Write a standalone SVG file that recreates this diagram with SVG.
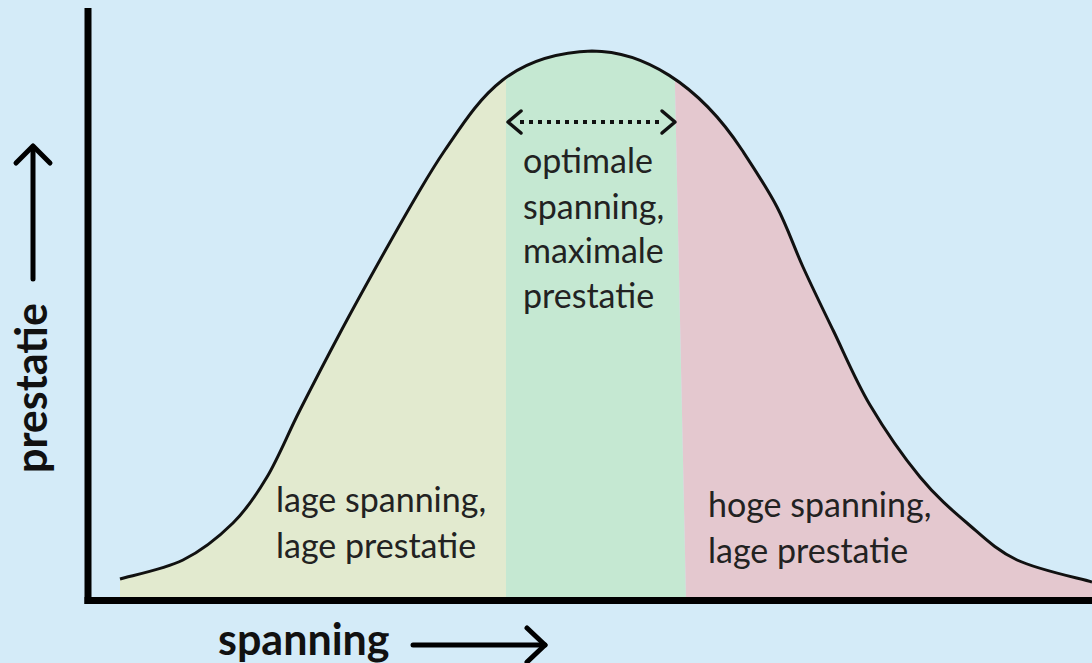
<svg xmlns="http://www.w3.org/2000/svg" width="1092" height="663" viewBox="0 0 1092 663">
<style>
.lbl{font-family:Lato,"Liberation Sans",sans-serif;font-size:34px;fill:#222}
.ax{font-family:Lato,"Liberation Sans",sans-serif;font-size:43px;font-weight:bold;fill:#111}
.arr{fill:none;stroke:#000;stroke-width:5;stroke-linecap:round;stroke-linejoin:round}
.chev{fill:none;stroke:#111;stroke-width:3.5;stroke-linecap:round;stroke-linejoin:round}
</style>
<defs>
<path id="curvePath" d="M120,579 C130.5,575.8 164.2,569.3 183,560 C201.8,550.7 219,536.8 233,523 C247,509.2 255.8,495.8 267,477 C278.2,458.2 287.8,434 300,410 C312.2,386 326.7,358 340,333 C353.3,308 366.7,283.8 380,260 C393.3,236.2 409.2,208.3 420,190 C430.8,171.7 435,164.7 445,150 C478,102 505,54 592,51 C642,51 698,83 742,150 C751.5,164.5 766.8,187.5 777,207 C787.2,226.5 793.7,246.5 803,267 C812.3,287.5 821.8,307 833,330 C844.2,353 855.5,380.5 870,405 C884.5,429.5 903.8,457.3 920,477 C936.2,496.7 950.8,509.2 967,523 C983.2,536.8 996.2,550.2 1017,560 C1037.8,569.8 1079.5,578.3 1092,582"/>
<clipPath id="under">
<path d="M120,579 C130.5,575.8 164.2,569.3 183,560 C201.8,550.7 219,536.8 233,523 C247,509.2 255.8,495.8 267,477 C278.2,458.2 287.8,434 300,410 C312.2,386 326.7,358 340,333 C353.3,308 366.7,283.8 380,260 C393.3,236.2 409.2,208.3 420,190 C430.8,171.7 435,164.7 445,150 C478,102 505,54 592,51 C642,51 698,83 742,150 C751.5,164.5 766.8,187.5 777,207 C787.2,226.5 793.7,246.5 803,267 C812.3,287.5 821.8,307 833,330 C844.2,353 855.5,380.5 870,405 C884.5,429.5 903.8,457.3 920,477 C936.2,496.7 950.8,509.2 967,523 C983.2,536.8 996.2,550.2 1017,560 C1037.8,569.8 1079.5,578.3 1092,582 L1092,600 L120,600 Z"/>
</clipPath>
</defs>
<rect width="1092" height="663" fill="#d4ebf8"/>
<g id="regions" clip-path="url(#under)">
<polygon id="low" points="100,40 506,40 506,600 100,600" fill="#e2eacf"/>
<polygon id="optimal" points="506,40 674,40 686,600 506,600" fill="#c5e8d2"/>
<polygon id="high" points="674,40 1092,40 1092,600 686,600" fill="#e4c8cf"/>
</g>
<g id="connectors">
<use id="curve" href="#curvePath" fill="none" stroke="#111" stroke-width="3"/>
<rect id="y-axis" x="84.5" y="8" width="7" height="596" fill="#000"/>
<rect id="x-axis" x="84.5" y="597" width="1008" height="7" fill="#000"/>
<line x1="520" y1="122" x2="664" y2="122" stroke="#111" stroke-width="4" stroke-dasharray="4 5"/>
<polyline class="chev" points="521,111 508,122 521,133"/>
<polyline class="chev" points="662,111 675,122 662,133"/>
<line class="arr" x1="33" y1="147" x2="33" y2="279"/>
<polyline class="arr" points="16,163 33,146 50,163"/>
<line class="arr" x1="413" y1="645" x2="545" y2="645"/>
<polyline class="arr" points="527,628 545,645 527,662"/>
</g>
<g id="label-optimal">
<text class="lbl" x="523" y="173">optimale</text>
<text class="lbl" x="523" y="219">spanning,</text>
<text class="lbl" x="523" y="263">maximale</text>
<text class="lbl" x="523" y="308">prestatie</text>
</g>
<g id="label-low">
<text class="lbl" x="276" y="512">lage spanning,</text>
<text class="lbl" x="276" y="558">lage prestatie</text>
</g>
<g id="label-high">
<text class="lbl" x="708" y="517">hoge spanning,</text>
<text class="lbl" x="708" y="563">lage prestatie</text>
</g>
<g id="axis-labels">
<text class="ax" x="218" y="655">spanning</text>
<text class="ax" x="47" y="473" transform="rotate(-90 47 473)">prestatie</text>
</g>
</svg>
